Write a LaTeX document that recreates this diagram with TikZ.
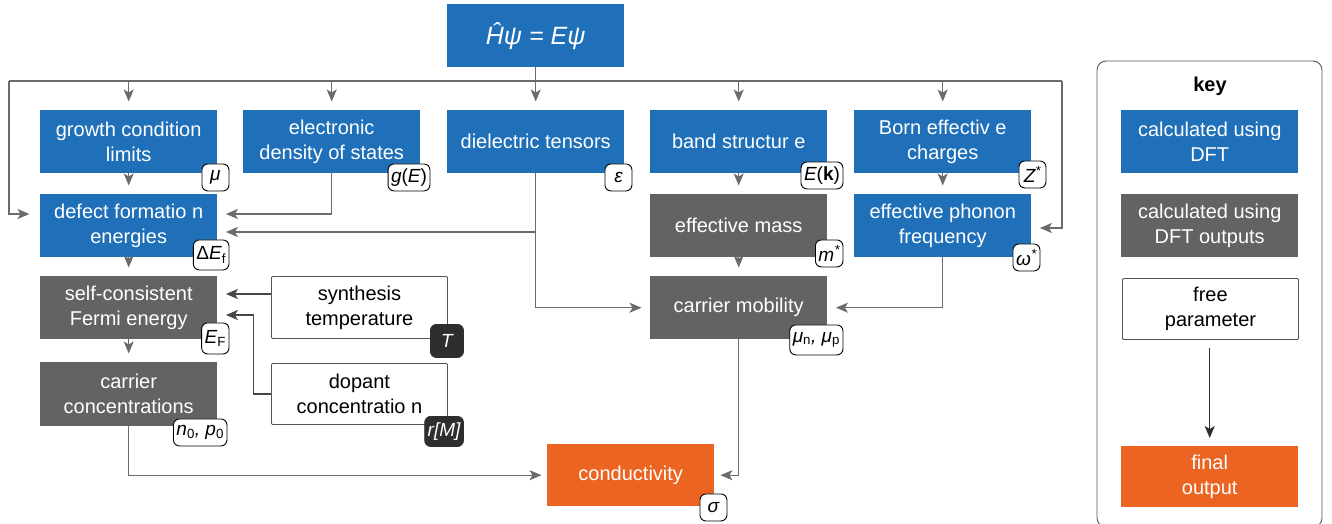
\documentclass[tikz,border=0pt]{standalone}
\usepackage{fontspec}
\setmainfont{Liberation Sans}
\usetikzlibrary{arrows.meta,calc}
\definecolor{dftblue}{HTML}{1F70B8}
\definecolor{dftgray}{HTML}{636363}
\definecolor{outorange}{HTML}{EB6422}
\definecolor{linegray}{HTML}{6B6B6B}
\definecolor{darkline}{HTML}{474747}
\definecolor{darklab}{HTML}{2E2E2E}
\definecolor{framegray}{HTML}{555555}
\begin{document}
\begin{tikzpicture}[x=1pt,y=-1pt,
  box/.style={minimum width=177pt, minimum height=63pt, inner sep=0pt, align=center,
    font=\fontsize{20}{25}\selectfont, anchor=north west},
  bluebox/.style={box, fill=dftblue, text=white},
  graybox/.style={box, fill=dftgray, text=white},
  freebox/.style={box, draw=framegray, fill=white, line width=0.9pt, rounded corners=1pt,
    minimum width=176pt, minimum height=62pt},
  orangebox/.style={box, fill=outorange, text=white},
  lab/.style={draw=black, fill=white, rounded corners=6pt, line width=0.9pt,
    minimum height=27pt, minimum width=27pt, inner sep=3pt,
    font=\fontsize{19}{19}\selectfont\itshape, anchor=south east},
  darklabel/.style={lab, fill=darklab, draw=darklab, text=white},
  tip/.style={-{Stealth[length=12pt,width=10pt,inset=3pt]}},
  conn/.style={draw=linegray, line width=1.4pt, tip, shorten >=8.5pt},
  conndark/.style={draw=darkline, line width=1.4pt, tip, shorten >=8.5pt},
  busline/.style={draw=linegray, line width=1.4pt}
]
\useasboundingbox (0,0) rectangle (1332,524);

% top
\node[bluebox, font=\fontsize{25}{30}\selectfont\itshape] (H) at (447,4) {Ĥψ = Eψ};

% row 1
\node[bluebox] (growth) at (40,110) {growth condition\\limits};
\node[bluebox] (dos) at (243,110) {electronic\\density of states};
\node[bluebox] (diel) at (447,110) {dielectric tensors};
\node[bluebox] (band) at (650,110) {band structur e};
\node[bluebox] (born) at (854,110) {Born effectiv e\\charges};

% row 2
\node[bluebox] (defect) at (40,194) {defect formatio n\\energies};
\node[graybox] (mass) at (650,194) {effective mass};
\node[bluebox] (phonon) at (854,194) {effective phonon\\frequency};

% row 3
\node[graybox] (scf) at (40,276) {self-consistent\\Fermi energy};
\node[freebox] (synth) at (271,276) {synthesis\\temperature};
\node[graybox] (mob) at (650,276) {carrier mobility};

% row 4
\node[graybox, minimum height=64pt] (conc) at (40,362) {carrier\\concentrations};
\node[freebox, minimum height=61pt] (dopant) at (271,363) {dopant\\concentratio n};

% output
\node[orangebox, minimum width=167pt, minimum height=62pt] (cond) at (547,444) {conductivity};

% labels
\node[lab] (lmu) at ($(growth.south east)+(12,18)$) {μ};
\node[lab] (lg) at ($(dos.south east)+(10,18)$) {g\upshape(\itshape E\upshape)};
\node[lab] (leps) at ($(diel.south east)+(8,18)$) {ε};
\node[lab] (lek) at ($(band.south east)+(16,16)$) {E\upshape(\textbf{k})};
\node[lab] (lz) at ($(born.south east)+(15,15)$) {Z\textsuperscript{*}};
\node[lab, minimum height=30pt] (lde) at ($(defect.south east)+(12,13)$) {\upshape Δ\itshape E\textsubscript{\upshape f}};
\node[lab] (lm) at ($(mass.south east)+(16,10)$) {m\textsuperscript{*}};
\node[lab] (lw) at ($(phonon.south east)+(9,14)$) {ω\textsuperscript{*}};
\node[lab, minimum height=31pt] (lef) at ($(scf.south east)+(12,15)$) {E\textsubscript{\upshape F}};
\node[darklabel, minimum height=33pt, minimum width=33pt] (lt) at ($(synth.south east)+(16,19)$) {T};
\node[lab, minimum height=30pt] (lmunp) at ($(mob.south east)+(16,16)$) {μ\textsubscript{\upshape n}, μ\textsubscript{\upshape p}};
\node[lab] (lnp) at ($(conc.south east)+(10,20)$) {n\textsubscript{\upshape 0}, p\textsubscript{\upshape 0}};
\node[darklabel, minimum height=30pt] (lr) at ($(dopant.south east)+(16,22)$) {r[M]};
\node[lab] (lsig) at ($(cond.south east)+(13,15)$) {σ};

% bus
\coordinate (busL) at (9,81);
\coordinate (busR) at (1062,81);
\draw[busline] (busL) -- (busR);
\draw[busline] (H.south) -- (H.south |- busL);
\foreach \n in {growth,dos,diel,band,born}
  \draw[conn] (\n.north |- busL) -- (\n.north);

\coordinate (defInL) at ([yshift=-20pt]defect.north west);
\coordinate (defInR1) at ([yshift=-20pt]defect.north east);
\coordinate (defInR2) at ([yshift=-38pt]defect.north east);
\coordinate (phoIn) at ([yshift=-34pt]phonon.north east);
\draw[conn, shorten >=10.5pt] (busL) |- (defInL);
\draw[conn] (busR) |- (phoIn);

\draw[conn] (growth) -- (defect);
\draw[conn] (dos.south) |- (defInR1);
\draw[conn] (diel.south |- defInR2) -- (defInR2);
\draw[conn] (diel.south) |- (mob.west);
\draw[conn] (band) -- (mass);
\draw[conn] (mass) -- (mob);
\draw[conn] (born) -- (phonon);
\draw[conn] (phonon.south) |- (mob.east);
\draw[conn] (defect) -- (scf);
\draw[conn] (scf) -- (conc);

\coordinate (scfIn1) at ([yshift=-18pt]scf.north east);
\coordinate (scfIn2) at ([yshift=-39pt]scf.north east);
\draw[conndark] (scfIn1 -| synth.west) -- (scfIn1);
\draw[conndark] (dopant.west) -| ($(scfIn2)+(36,0)$) -- (scfIn2);

\draw[conn, shorten >=5.5pt] (conc.south) |- (cond.west);
\draw[conn, shorten >=6pt] (mob.south) |- (cond.east);

% key
\draw[framegray, line width=0.9pt, rounded corners=9pt] (1097,61) rectangle (1322,527);
\node[font=\fontsize{20}{24}\selectfont\bfseries] (keytitle) at (1210,86) {key};
\node[bluebox] (kblue) at (1121,110) {calculated using\\DFT};
\node[graybox] (kgray) at (1121,194) {calculated using\\DFT outputs};
\node[freebox, minimum height=61pt] (kfree) at (1122,278) {free\\parameter};
\node[orangebox, minimum height=61pt] (kout) at (1121,446) {final\\output};
\draw[draw=darklab, line width=1.2pt, tip, shorten <=8pt, shorten >=8pt] (kfree.south -| kout.north) -- (kout.north);
\end{tikzpicture}
\end{document}
